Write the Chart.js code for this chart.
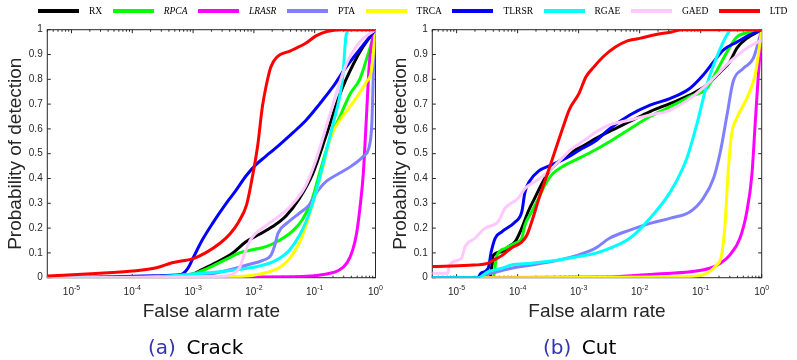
<!DOCTYPE html>
<html>
<head>
<meta charset="utf-8">
<script src="https://cdn.jsdelivr.net/npm/chart.js@4.4.0/dist/chart.umd.min.js"></script>
<style>
  body { margin: 0; background: #fff; width: 797px; height: 360px; position: relative; overflow: hidden; }
  canvas { position: absolute; top: 0; }
  #chart-crack { left: 0; }
  #chart-cut { left: 385px; }
  #legend { position: absolute; left: 38px; top: 5px; height: 12px; display: flex; align-items: center;
            font: 9.5px "Liberation Serif", "Times New Roman", serif; color: #000; z-index: 2; white-space: nowrap; }
  #legend .line { display: inline-block; width: 41px; height: 4px; margin-right: 10px; }
  #legend .name { margin-right: 10.5px; }
  .caption { position: absolute; top: 337px; font: 20px "DejaVu Sans", sans-serif; line-height: 20px; color: #000; white-space: nowrap; }
  .caption .tag { color: #3333b3; margin-right: 10.5px; }
</style>
</head>
<body>
<div id="legend"></div>
<canvas id="chart-crack" width="398" height="360"></canvas>
<canvas id="chart-cut" width="412" height="360"></canvas>
<div class="caption" style="left:148px"><span class="tag">(a)</span>Crack</div>
<div class="caption" style="left:543px"><span class="tag">(b)</span>Cut</div>

<script>
// methods, in legend / plotting order
var methods = ['RX', 'RPCA', 'LRASR', 'PTA', 'TRCA', 'TLRSR', 'RGAE', 'GAED', 'LTD'];
var italicNames = ['RPCA', 'LRASR'];
var colors = ['#000000', '#00ff00', '#ff00ff', '#8080ff', '#ffff00', '#0000ff', '#00ffff', '#ffc8ff', '#ff0000'];

// axes
var farMin = 4e-6;
var farMax = 1;
var xTickExponents = [-5, -4, -3, -2, -1, 0];
var yTicks = [0, 0.1, 0.2, 0.3, 0.4, 0.5, 0.6, 0.7, 0.8, 0.9, 1];
var yTickLabels = ['0', '0.1', '0.2', '0.3', '0.4', '0.5', '0.6', '0.7', '0.8', '0.9', '1'];

// (a) Crack : false alarm rate / probability of detection
var crackRX_far = [4e-6, 2.5e-4, 1e-3, 1.26e-3, 2.1e-3, 4.5e-3, 7.4e-3, 1.23e-2, 2e-2, 3.4e-2, 5.6e-2, 9.3e-2, 0.155, 0.26, 0.43, 0.62, 1];
var crackRX_pd = [0, 0.005, 0.015, 0.027, 0.054, 0.10, 0.145, 0.175, 0.205, 0.25, 0.32, 0.42, 0.575, 0.74, 0.86, 0.93, 1];

var crackRPCA_far = [4e-6, 3.2e-4, 1e-3, 1.6e-3, 3.5e-3, 5.8e-3, 9.5e-3, 1.58e-2, 2.6e-2, 4.4e-2, 6.3e-2, 8.9e-2, 0.123, 0.178, 0.26, 0.38, 0.55, 0.72, 1];
var crackRPCA_pd = [0, 0.005, 0.015, 0.034, 0.074, 0.10, 0.113, 0.125, 0.15, 0.19, 0.235, 0.31, 0.43, 0.56, 0.65, 0.74, 0.80, 0.885, 1];

var crackLRASR_far = [4e-6, 6.3e-2, 0.158, 0.25, 0.34, 0.42, 0.49, 0.56, 0.63, 0.71, 0.79, 0.89, 1];
var crackLRASR_pd = [0, 0.005, 0.015, 0.03, 0.06, 0.11, 0.18, 0.29, 0.42, 0.65, 0.86, 0.96, 1];

var crackPTA_far = [4e-6, 1e-3, 2.5e-3, 4.5e-3, 7.9e-3, 1.4e-2, 1.9e-2, 2.2e-2, 2.5e-2, 3.5e-2, 5.6e-2, 7.9e-2, 0.112, 0.158, 0.25, 0.4, 0.63, 0.79, 0.87, 0.93, 1];
var crackPTA_pd = [0, 0.005, 0.02, 0.035, 0.052, 0.07, 0.09, 0.13, 0.18, 0.22, 0.26, 0.29, 0.35, 0.39, 0.42, 0.45, 0.49, 0.53, 0.62, 0.85, 1];

var crackTRCA_far = [4e-6, 4e-3, 1.58e-2, 2.6e-2, 3.8e-2, 5.6e-2, 7.2e-2, 9.3e-2, 0.112, 0.138, 0.178, 0.25, 0.355, 0.5, 0.71, 0.85, 1];
var crackTRCA_pd = [0, 0.003, 0.02, 0.04, 0.075, 0.14, 0.21, 0.30, 0.37, 0.45, 0.56, 0.63, 0.68, 0.73, 0.79, 0.83, 1];

var crackTLRSR_far = [4e-6, 3.2e-5, 2.5e-4, 6.3e-4, 8.3e-4, 1.05e-3, 1.4e-3, 2.1e-3, 3.5e-3, 5e-3, 7.4e-3, 1.07e-2, 1.58e-2, 2.6e-2, 4.4e-2, 7.2e-2, 0.12, 0.2, 0.33, 0.55, 1];
var crackTLRSR_pd = [0, 0.003, 0.008, 0.013, 0.04, 0.09, 0.15, 0.22, 0.30, 0.35, 0.41, 0.455, 0.49, 0.535, 0.585, 0.635, 0.70, 0.77, 0.85, 0.92, 1];

var crackRGAE_far = [4e-6, 2.5e-4, 1.26e-3, 4.5e-3, 1.23e-2, 2.3e-2, 3.8e-2, 5.6e-2, 7.6e-2, 9.5e-2, 0.12, 0.145, 0.2, 0.257, 0.295, 0.31, 0.33, 0.38, 1];
var crackRGAE_pd = [0, 0.005, 0.017, 0.03, 0.047, 0.07, 0.11, 0.17, 0.24, 0.31, 0.40, 0.48, 0.62, 0.73, 0.83, 0.91, 0.98, 1, 1];

var crackGAED_far = [4e-6, 2.5e-3, 4.5e-3, 5.8e-3, 7.1e-3, 8.9e-3, 1.58e-2, 3.2e-2, 5e-2, 7.1e-2, 0.1, 0.135, 0.2, 0.33, 0.55, 1];
var crackGAED_pd = [0, 0.005, 0.015, 0.04, 0.10, 0.155, 0.21, 0.265, 0.315, 0.37, 0.46, 0.56, 0.70, 0.86, 0.95, 1];

var crackLTD_far = [4e-6, 2.5e-5, 1e-4, 2.5e-4, 4.5e-4, 1e-3, 1.6e-3, 2.8e-3, 4e-3, 5.6e-3, 7.6e-3, 9.5e-3, 1.15e-2, 1.38e-2, 1.58e-2, 1.9e-2, 2.4e-2, 4e-2, 7.1e-2, 0.105, 0.158, 0.28, 1];
var crackLTD_pd = [0.007, 0.017, 0.027, 0.04, 0.06, 0.077, 0.10, 0.14, 0.175, 0.225, 0.295, 0.41, 0.53, 0.69, 0.77, 0.85, 0.89, 0.915, 0.945, 0.975, 0.993, 1, 1];

// (b) Cut
var cutRX_far = [4e-6, 3.5e-5, 3.8e-5, 4e-5, 5.5e-5, 7.1e-5, 9.1e-5, 1.17e-4, 1.48e-4, 1.9e-4, 2.45e-4, 3.2e-4, 4.7e-4, 7.8e-4, 1.26e-3, 1.86e-3, 3.2e-3, 6.9e-3, 1.48e-2, 3.2e-2, 6.7e-2, 0.126, 0.21, 0.3, 0.39, 0.57, 1];
var cutRX_pd = [0, 0, 0.05, 0.09, 0.105, 0.125, 0.145, 0.2, 0.265, 0.32, 0.375, 0.425, 0.468, 0.508, 0.535, 0.56, 0.59, 0.63, 0.67, 0.703, 0.737, 0.777, 0.83, 0.87, 0.925, 0.965, 1];

var cutRPCA_far = [4e-6, 4e-5, 4.3e-5, 4.6e-5, 6.2e-5, 9.1e-5, 1.17e-4, 1.32e-4, 1.7e-4, 2.2e-4, 2.8e-4, 3.6e-4, 6e-4, 9.8e-4, 1.86e-3, 3.2e-3, 6.9e-3, 1.48e-2, 3.2e-2, 6.7e-2, 0.126, 0.18, 0.27, 0.39, 0.63, 1];
var cutRPCA_pd = [0, 0, 0.05, 0.09, 0.118, 0.139, 0.159, 0.212, 0.266, 0.32, 0.374, 0.414, 0.454, 0.48, 0.515, 0.548, 0.60, 0.65, 0.69, 0.73, 0.764, 0.83, 0.91, 0.97, 0.99, 1];

var cutLRASR_far = [4e-6, 3.2e-3, 1.9e-2, 6.7e-2, 0.141, 0.21, 0.3, 0.44, 0.57, 0.69, 0.78, 0.88, 1];
var cutLRASR_pd = [0, 0.003, 0.015, 0.024, 0.038, 0.058, 0.091, 0.159, 0.266, 0.414, 0.616, 0.817, 1];

var cutPTA_far = [4e-6, 2e-5, 3.7e-5, 7.9e-5, 1.7e-4, 4.7e-4, 9.8e-4, 1.86e-3, 3.2e-3, 6.9e-3, 1.48e-2, 3.2e-2, 6.7e-2, 0.11, 0.162, 0.21, 0.27, 0.34, 0.5, 0.73, 1];
var cutPTA_pd = [0, 0, 0.018, 0.038, 0.051, 0.071, 0.091, 0.118, 0.159, 0.192, 0.219, 0.24, 0.266, 0.32, 0.40, 0.508, 0.656, 0.79, 0.844, 0.885, 1];

var cutTRCA_far = [4e-6, 6.7e-2, 0.126, 0.18, 0.22, 0.25, 0.28, 0.32, 0.39, 0.57, 0.78, 0.93, 1];
var cutTRCA_pd = [0, 0.005, 0.018, 0.05, 0.091, 0.21, 0.414, 0.575, 0.643, 0.723, 0.817, 0.94, 1];

var cutTLRSR_far = [4e-6, 2.24e-5, 2.5e-5, 3.3e-5, 3.7e-5, 4.3e-5, 5.5e-5, 9.1e-5, 1.17e-4, 1.32e-4, 1.58e-4, 2.2e-4, 3.6e-4, 6e-4, 1.12e-3, 1.86e-3, 3.2e-3, 6.9e-3, 1.48e-2, 3.2e-2, 6.7e-2, 0.11, 0.162, 0.234, 0.39, 0.65, 1];
var cutTLRSR_pd = [0, 0, 0.018, 0.038, 0.105, 0.16, 0.185, 0.225, 0.265, 0.345, 0.39, 0.43, 0.455, 0.48, 0.52, 0.55, 0.60, 0.656, 0.696, 0.723, 0.764, 0.817, 0.87, 0.918, 0.95, 0.98, 1];

var cutRGAE_far = [4e-6, 2.24e-5, 3.3e-5, 5.5e-5, 7.9e-5, 1.7e-4, 4.7e-4, 9.8e-4, 1.86e-3, 3.2e-3, 6.9e-3, 1.48e-2, 3.2e-2, 5.9e-2, 8.6e-2, 0.126, 0.18, 0.27, 0.32, 1];
var cutRGAE_pd = [0, 0, 0.024, 0.038, 0.051, 0.058, 0.071, 0.085, 0.098, 0.118, 0.159, 0.24, 0.347, 0.48, 0.616, 0.777, 0.885, 0.98, 1, 1];

var cutGAED_far = [4e-6, 7.2e-6, 7.6e-6, 1.2e-5, 1.38e-5, 2e-5, 2.9e-5, 4.8e-5, 6.2e-5, 1.02e-4, 1.32e-4, 1.9e-4, 3.2e-4, 4.7e-4, 7.8e-4, 1.26e-3, 1.86e-3, 3.2e-3, 6.9e-3, 1.48e-2, 3.2e-2, 6.7e-2, 0.141, 0.3, 0.57, 1];
var cutGAED_pd = [0.018, 0.018, 0.05, 0.078, 0.125, 0.159, 0.199, 0.226, 0.28, 0.32, 0.36, 0.387, 0.427, 0.468, 0.52, 0.555, 0.585, 0.616, 0.636, 0.656, 0.676, 0.723, 0.79, 0.87, 0.925, 0.958];

var cutLTD_far = [4e-6, 1.58e-5, 3.2e-5, 4e-5, 5.6e-5, 7.9e-5, 1.12e-4, 1.41e-4, 1.78e-4, 2.24e-4, 2.8e-4, 3.5e-4, 4.5e-4, 5.6e-4, 7.1e-4, 1e-3, 1.32e-3, 1.78e-3, 2.5e-3, 4e-3, 6.3e-3, 1e-2, 1.78e-2, 3.2e-2, 5e-2, 1];
var cutLTD_pd = [0.045, 0.05, 0.058, 0.07, 0.09, 0.12, 0.14, 0.17, 0.24, 0.32, 0.39, 0.46, 0.54, 0.61, 0.68, 0.74, 0.81, 0.85, 0.89, 0.93, 0.955, 0.965, 0.98, 0.99, 1, 1];


function series(far, pd) {
    return far.map(function (f, i) { return { x: f, y: pd[i] }; });
}

var crackSeries = [
    series(crackRX_far, crackRX_pd), series(crackRPCA_far, crackRPCA_pd), series(crackLRASR_far, crackLRASR_pd),
    series(crackPTA_far, crackPTA_pd), series(crackTRCA_far, crackTRCA_pd), series(crackTLRSR_far, crackTLRSR_pd),
    series(crackRGAE_far, crackRGAE_pd), series(crackGAED_far, crackGAED_pd), series(crackLTD_far, crackLTD_pd)
];
var cutSeries = [
    series(cutRX_far, cutRX_pd), series(cutRPCA_far, cutRPCA_pd), series(cutLRASR_far, cutLRASR_pd),
    series(cutPTA_far, cutPTA_pd), series(cutTRCA_far, cutTRCA_pd), series(cutTLRSR_far, cutTLRSR_pd),
    series(cutRGAE_far, cutRGAE_pd), series(cutGAED_far, cutGAED_pd), series(cutLTD_far, cutLTD_pd)
];

// legend (html, shared by both plots)
var legend = document.getElementById('legend');
methods.forEach(function (m, i) {
    var line = document.createElement('span');
    line.className = 'line';
    line.style.background = colors[i];
    var name = document.createElement('span');
    name.className = 'name';
    name.textContent = m;
    if (italicNames.indexOf(m) >= 0) name.style.fontStyle = 'italic';
    legend.appendChild(line);
    legend.appendChild(name);
});

Chart.defaults.font.family = '"Liberation Sans", Arial, sans-serif';
var axisColor = '#262626';

// matlab style box, inward ticks and 10^n labels
var matlabAxes = {
    id: 'matlabAxes',
    beforeDatasetsDraw: function (chart) {
        var ctx = chart.ctx, a = chart.chartArea;
        var xs = chart.scales.x, ys = chart.scales.y;
        ctx.save();
        ctx.strokeStyle = axisColor;
        ctx.lineWidth = 1;
        ctx.strokeRect(a.left, a.top, a.right - a.left, a.bottom - a.top);

        ctx.beginPath();
        yTicks.forEach(function (v) {
            var py = ys.getPixelForValue(v);
            ctx.moveTo(a.left, py); ctx.lineTo(a.left + 3.5, py);
            ctx.moveTo(a.right, py); ctx.lineTo(a.right - 3.5, py);
        });
        xTickExponents.forEach(function (e) {
            for (var m = 1; m <= 9; m++) {
                var v = m * Math.pow(10, e - 1);
                if (v < farMin || v > farMax) continue;
                var px = xs.getPixelForValue(v);
                var len = m === 1 ? 3.5 : 2;
                ctx.moveTo(px, a.bottom); ctx.lineTo(px, a.bottom - len);
                ctx.moveTo(px, a.top); ctx.lineTo(px, a.top + len);
            }
        });
        var px0 = xs.getPixelForValue(farMax);
        ctx.moveTo(px0, a.bottom); ctx.lineTo(px0, a.bottom - 3.5);
        ctx.stroke();

        ctx.fillStyle = axisColor;
        ctx.textAlign = 'left';
        ctx.textBaseline = 'alphabetic';
        xTickExponents.forEach(function (e) {
            var px = xs.getPixelForValue(Math.pow(10, e));
            var sup = String(e);
            ctx.font = '10px "Liberation Sans", Arial, sans-serif';
            var wb = ctx.measureText('10').width;
            ctx.font = '7px "Liberation Sans", Arial, sans-serif';
            var ws = ctx.measureText(sup).width;
            var x0 = px - (wb + ws) / 2;
            ctx.font = '10px "Liberation Sans", Arial, sans-serif';
            ctx.fillText('10', x0, a.bottom + 17.5);
            ctx.font = '7px "Liberation Sans", Arial, sans-serif';
            ctx.fillText(sup, x0 + wb, a.bottom + 12.5);
        });
        ctx.restore();
    }
};

function makeChart(id, seriesList, padRight) {
    var ctx = document.getElementById(id).getContext('2d');
    return new Chart(ctx, {
        type: 'line',
        data: {
            datasets: seriesList.map(function (pts, i) {
                return {
                    label: methods[i],
                    data: pts,
                    borderColor: colors[i],
                    backgroundColor: colors[i],
                    borderWidth: 3,
                    pointRadius: 0,
                    fill: false,
                    cubicInterpolationMode: 'monotone',
                    order: -i
                };
            })
        },
        options: {
            responsive: false,
            animation: false,
            events: [],
            layout: { padding: { left: 0, top: 29.7, right: padRight, bottom: 22 } },
            plugins: { legend: { display: false }, tooltip: { enabled: false } },
            scales: {
                x: {
                    type: 'logarithmic',
                    min: farMin,
                    max: farMax,
                    grid: { display: false, drawTicks: false },
                    border: { display: false },
                    ticks: { display: false },
                    title: { display: true, text: 'False alarm rate', color: axisColor,
                             font: { size: 19 }, padding: { top: 0, bottom: 15 } },
                    afterFit: function (s) { s.height = 60.3; }
                },
                y: {
                    min: 0,
                    max: 1,
                    grid: { display: false, drawTicks: false },
                    border: { display: false },
                    ticks: {
                        stepSize: 0.1,
                        padding: 4.6,
                        color: axisColor,
                        font: { size: 10 },
                        callback: function (v) {
                            var k = yTicks.findIndex(function (t) { return Math.abs(t - v) < 1e-9; });
                            return k >= 0 ? yTickLabels[k] : '';
                        }
                    },
                    title: { display: true, text: 'Probability of detection', color: axisColor,
                             font: { size: 19 }, padding: { top: 4.6, bottom: 0 } },
                    afterFit: function (s) { s.width = 47.3; }
                }
            }
        },
        plugins: [matlabAxes]
    });
}

// Grafiek a: Crack
makeChart('chart-crack', crackSeries, 22.5);

// Grafiek b: Cut
makeChart('chart-cut', cutSeries, 35.3);
</script>
</body>
</html>
